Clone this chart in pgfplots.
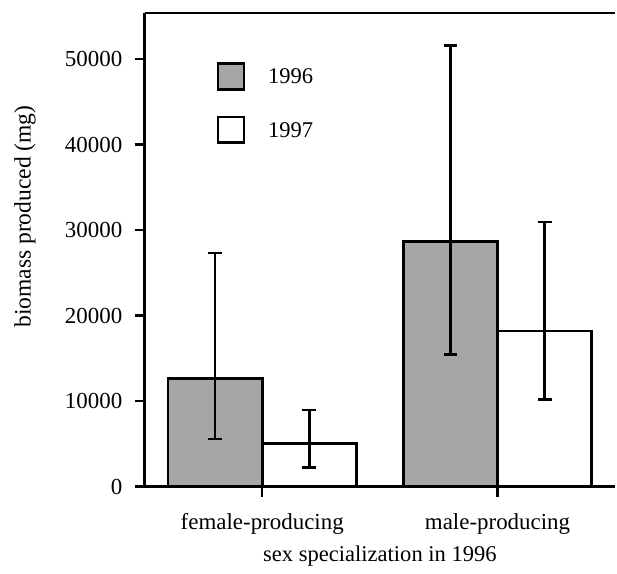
\documentclass[border=0pt]{standalone}
\usepackage{fontspec}
\setmainfont{Liberation Serif}
\usepackage{pgfplots}
\pgfplotsset{compat=1.18}
\definecolor{bargrey}{RGB}{166,166,166}
\begin{document}
\fontsize{11.3}{13}\selectfont
\begin{tikzpicture}
\begin{axis}[
  scale only axis, width=236pt, height=237.5pt,
  xmin=-0.5, xmax=1.5, ymin=0, ymax=55400,
  clip=false, axis on top,
  axis lines=left,
  axis line style={-, line width=1.4pt},
  x axis line style={line width=1.8pt},
  ybar, bar width=0.4, bar shift=0pt,
  xtick={0,1}, xticklabels={female-producing, male-producing},
  ytick={0,10000,20000,30000,40000,50000},
  yticklabels={0,10000,20000,30000,40000,50000},
  scaled y ticks=false,
  tick align=outside, major tick length=5pt,
  every tick/.style={black, line width=1.2pt},
  tick label style={font=\fontsize{11.5}{13}\selectfont},
  yticklabel style={inner sep=0pt, xshift=-6pt},
  xticklabel style={yshift=-4.5pt},
  every axis x label/.style={at={(rel axis cs:0.5,0)}, anchor=base, yshift=-37.5pt},
  every axis y label/.style={at={(rel axis cs:0,0.57)}, rotate=90, anchor=center, yshift=60pt, font=\fontsize{11.8}{13}\selectfont},
  xlabel={sex specialization in 1996},
  ylabel={biomass produced (mg)},
  legend style={draw=none, fill=none, at={(rel axis cs:0.1525,0.897)}, anchor=north west,
    inner sep=0pt, row sep=12.5pt, column sep=11.5pt, nodes={inner sep=0pt},
    font=\fontsize{11.3}{13}\selectfont},
  legend cell align=left,
  error bars/y dir=both, error bars/y explicit,
  error bars/error bar style={line width=1.3pt, black},
  error bars/error mark options={line width=1.3pt, black, mark size=3.5pt, rotate=90},
]
\addplot[fill=bargrey, draw=black, line width=1.3pt,
  legend image code/.code={\draw[fill=bargrey, draw=black, line width=1.3pt] (0pt,-5.7pt) rectangle (13pt,7.3pt);}]
  coordinates {(-0.2,12670) += (0,14670) -= (0,7120)
               (0.8,28660) += (0,22960) -= (0,13190)};
\addlegendentry{1996}
\addplot[fill=white, draw=black, line width=1.3pt,
  legend image code/.code={\draw[fill=white, draw=black, line width=1.3pt] (0pt,-5.7pt) rectangle (13pt,7.3pt);}]
  coordinates {(0.2,5040) += (0,3930) -= (0,2800)
               (1.2,18190) += (0,12770) -= (0,7980)};
\addlegendentry{1997}
\draw[line width=1.4pt] (rel axis cs:0,1) -- (rel axis cs:1,1);
\coordinate (bl) at (rel axis cs:0,0);
\coordinate (tr) at (rel axis cs:1,1);
\end{axis}
\path ([shift={(-72.5pt,-40.75pt)}]bl) rectangle ([yshift=6.5pt]tr);
\end{tikzpicture}
\end{document}
